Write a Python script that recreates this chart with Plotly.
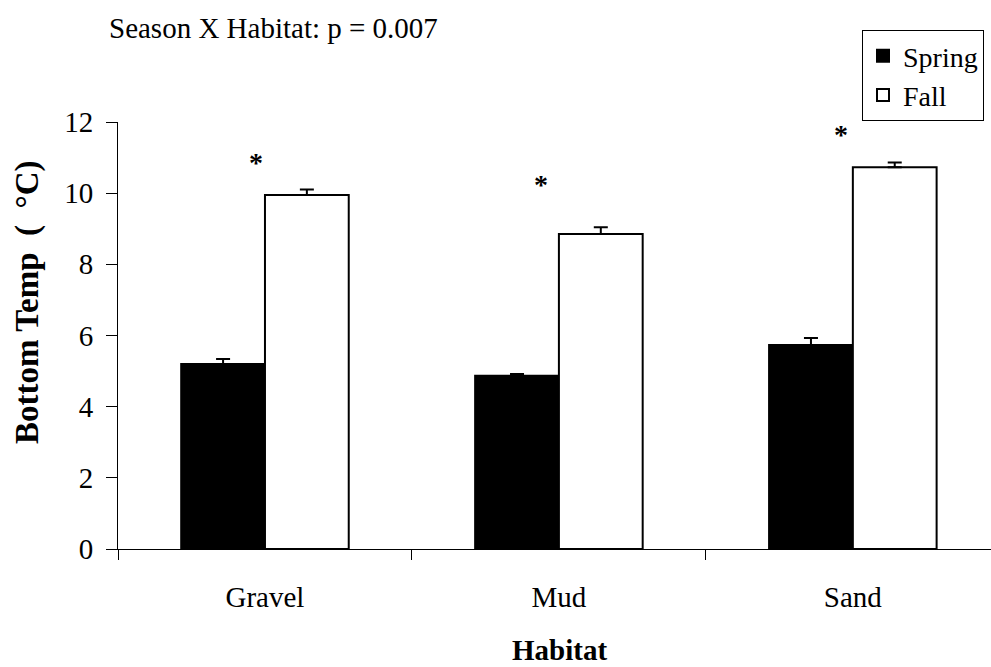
import plotly.graph_objects as go

habitats = ["Gravel", "Mud", "Sand"]
spring = [5.2, 4.87, 5.73]
spring_err = [0.14, 0.05, 0.2]
fall = [9.95, 8.85, 10.73]
fall_err = [0.15, 0.19, 0.13]
star_y = [10.98, 10.37, 11.77]
y_ticks = [0, 2, 4, 6, 8, 10, 12]

FONT = "'Times New Roman', 'Liberation Serif', Times, serif"
star_shift = [-9, -18, -12]

fig = go.Figure()
fig.add_trace(go.Bar(
    name="Spring", x=habitats, y=spring, legendgroup="s",
    marker=dict(color="black", line=dict(color="black", width=2)),
    error_y=dict(type="data", array=spring_err, arrayminus=[0]*3, symmetric=False,
                 color="black", thickness=2, width=7),
))
fig.add_trace(go.Bar(
    name="Fall", x=habitats, y=fall, legendgroup="f",
    marker=dict(color="white", line=dict(color="black", width=2)),
    error_y=dict(type="data", array=fall_err, arrayminus=[0]*3, symmetric=False,
                 color="black", thickness=2, width=7),
))

for i, h in enumerate(habitats):
    fig.add_annotation(x=h, y=star_y[i], text="<b>*</b>", showarrow=False,
                       xshift=star_shift[i], yshift=-4,
                       font=dict(family=FONT, size=28, color="black"))

# title text
fig.add_annotation(xref="paper", yref="paper", x=0, xshift=-11, y=(549 - 28) / 427,
                   xanchor="left", yanchor="middle", showarrow=False,
                   text="Season X Habitat: p = 0.007",
                   font=dict(family=FONT, size=29, color="black"))
# y-axis title
fig.add_annotation(xref="paper", yref="paper", x=0, xshift=-91, y=(549 - 302) / 427,
                   xanchor="center", yanchor="middle", showarrow=False, textangle=-90,
                   text="<b>Bottom Temp  (  °C)</b>",
                   font=dict(family=FONT, size=33, color="black"))
# x-axis title
fig.add_annotation(xref="paper", yref="paper", x=(559 - 118) / 873, y=(549 - 650) / 427,
                   xanchor="center", yanchor="middle", showarrow=False,
                   text="<b>Habitat</b>",
                   font=dict(family=FONT, size=29, color="black"))

fig.update_layout(
    width=991, height=667,
    margin=dict(l=118, r=0, t=122, b=118),
    paper_bgcolor="white", plot_bgcolor="white",
    barmode="group", bargap=0.43, bargroupgap=0,
    font=dict(family=FONT, color="black"),
    showlegend=True,
    legend=dict(x=(862 - 118) / 873, y=(549 - 30) / 427, xanchor="left", yanchor="top",
                bordercolor="black", borderwidth=1, bgcolor="white",
                font=dict(family=FONT, size=28), traceorder="normal",
                itemwidth=30, tracegroupgap=5),
    xaxis=dict(
        range=[-0.5, 2.47], showline=True, linecolor="black", linewidth=1,
        ticks="outside", tickson="boundaries", ticklen=10, tickcolor="black",
        tickfont=dict(family=FONT, size=29), showgrid=False, ticklabelstandoff=22,
    ),
    yaxis=dict(
        range=[0, 12], tickvals=y_ticks, showline=True, linecolor="black", linewidth=1,
        ticks="outside", ticklen=11, tickcolor="black", showgrid=False, zeroline=False,
        tickfont=dict(family=FONT, size=29), ticklabelstandoff=7,
    ),
)

fig.write_html("out.html")
